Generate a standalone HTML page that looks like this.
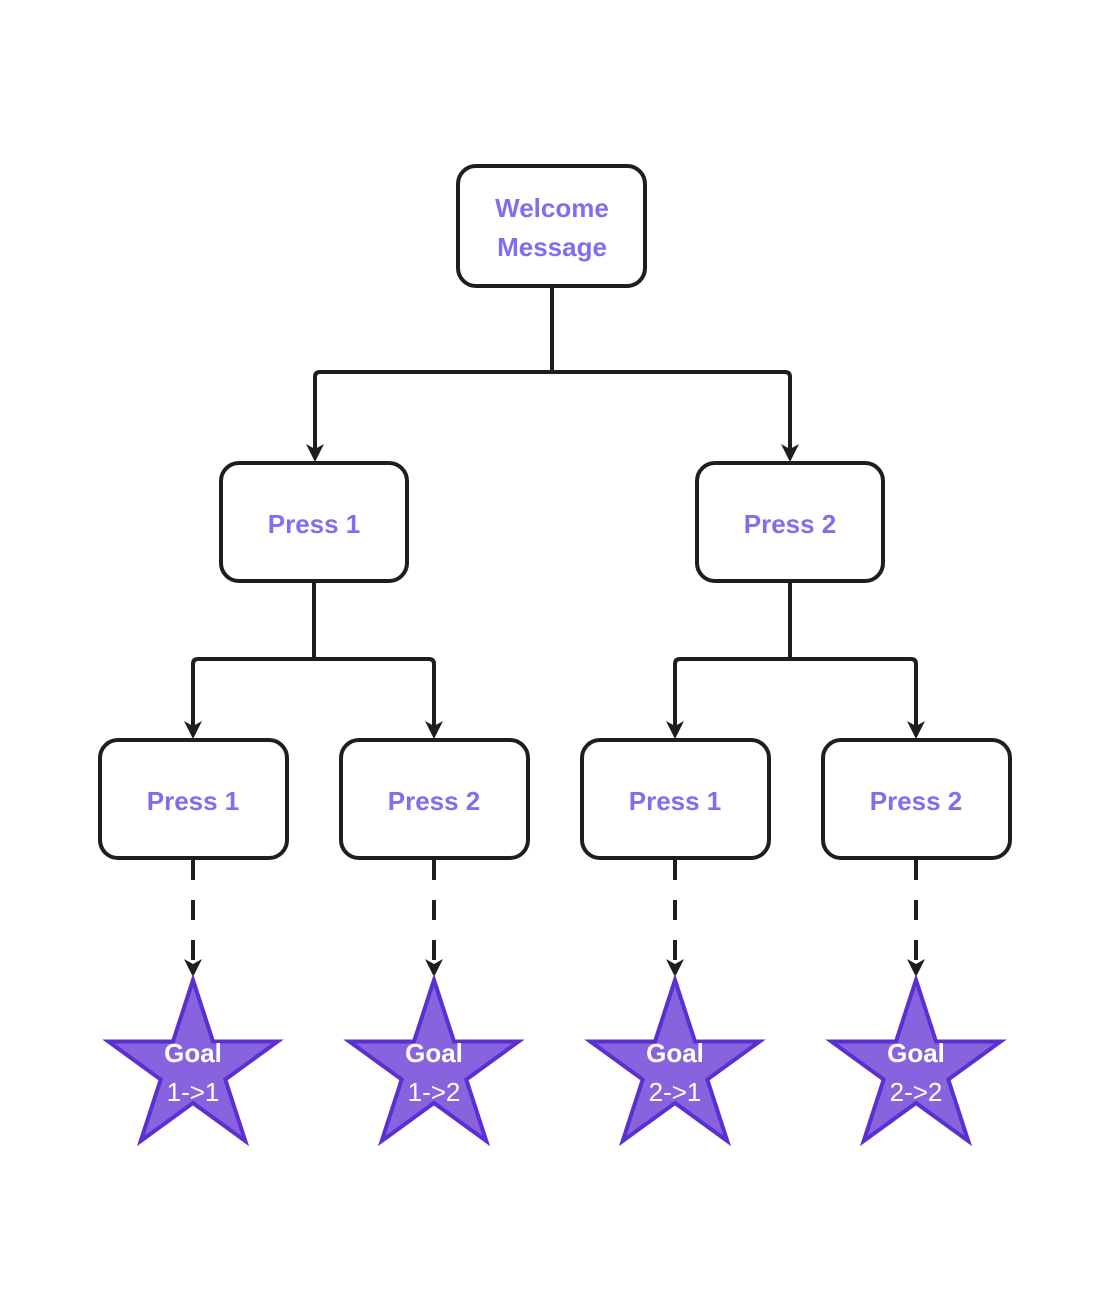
<!DOCTYPE html>
<html><head><style>body{margin:0;background:#fff}</style></head><body>
<svg width="1110" height="1302" viewBox="0 0 1110 1302" xmlns="http://www.w3.org/2000/svg">
<defs>
<marker id="a" markerWidth="10" markerHeight="10" refX="5" refY="7" orient="auto" markerUnits="userSpaceOnUse" viewBox="0 0 10 10"></marker>
<symbol id="star" viewBox="-90 -90 180 180" overflow="visible">
<polygon points="0,-89 20,-27.5 84.6,-27.5 32.3,10.5 52.3,72 0,34 -52.3,72 -32.3,10.5 -84.6,-27.5 -20,-27.5" fill="#8763de" stroke="#5b2fd2" stroke-width="4" stroke-linejoin="miter"/>
</symbol>
</defs>
<g fill="none" stroke="#1e1e1e" stroke-width="4" stroke-linejoin="round">
<path d="M552 286 V372 M552 372 H320 Q315 372 315 377 V455 M552 372 H785 Q790 372 790 377 V455"/>
<path d="M314 581 V659 M314 659 H198 Q193 659 193 664 V732 M314 659 H429 Q434 659 434 664 V732"/>
<path d="M790 581 V659 M790 659 H680 Q675 659 675 664 V732 M790 659 H911 Q916 659 916 664 V732"/>
<path d="M193 860 V970 M434 860 V970 M675 860 V970 M916 860 V970" stroke-dasharray="20 20"/>
<rect x="458" y="166" width="187" height="120" rx="18"/>
<rect x="221" y="463" width="186" height="118" rx="18"/>
<rect x="697" y="463" width="186" height="118" rx="18"/>
<rect x="100" y="740" width="187" height="118" rx="18"/>
<rect x="341" y="740" width="187" height="118" rx="18"/>
<rect x="582" y="740" width="187" height="118" rx="18"/>
<rect x="823" y="740" width="187" height="118" rx="18"/>
</g>
<g fill="#1e1e1e">
<path d="M306 444 L315 462 L324 444 L315 449Z"/>
<path d="M781 444 L790 462 L799 444 L790 449Z"/>
<path d="M184 721 L193 739 L202 721 L193 726Z"/>
<path d="M425 721 L434 739 L443 721 L434 726Z"/>
<path d="M666 721 L675 739 L684 721 L675 726Z"/>
<path d="M907 721 L916 739 L925 721 L916 726Z"/>
<path d="M184 959 L193 977 L202 959 L193 964Z"/>
<path d="M425 959 L434 977 L443 959 L434 964Z"/>
<path d="M666 959 L675 977 L684 959 L675 964Z"/>
<path d="M907 959 L916 977 L925 959 L916 964Z"/>
</g>
<use href="#star" x="103" y="979" width="180" height="180"/>
<use href="#star" x="344" y="979" width="180" height="180"/>
<use href="#star" x="585" y="979" width="180" height="180"/>
<use href="#star" x="826" y="979" width="180" height="180"/>
<g font-family="Liberation Sans, sans-serif" font-size="26" font-weight="bold" fill="#7f6ef0" text-anchor="middle">
<text x="552" y="217">Welcome</text>
<text x="552" y="256">Message</text>
<text x="314" y="533">Press 1</text>
<text x="790" y="533">Press 2</text>
<text x="193" y="810">Press 1</text>
<text x="434" y="810">Press 2</text>
<text x="675" y="810">Press 1</text>
<text x="916" y="810">Press 2</text>
</g>
<g font-family="Liberation Sans, sans-serif" font-size="26" fill="#fff" text-anchor="middle">
<text x="193" y="1062" font-weight="bold">Goal</text>
<text x="193" y="1101">1-&gt;1</text>
<text x="434" y="1062" font-weight="bold">Goal</text>
<text x="434" y="1101">1-&gt;2</text>
<text x="675" y="1062" font-weight="bold">Goal</text>
<text x="675" y="1101">2-&gt;1</text>
<text x="916" y="1062" font-weight="bold">Goal</text>
<text x="916" y="1101">2-&gt;2</text>
</g>
</svg>
</body></html>
